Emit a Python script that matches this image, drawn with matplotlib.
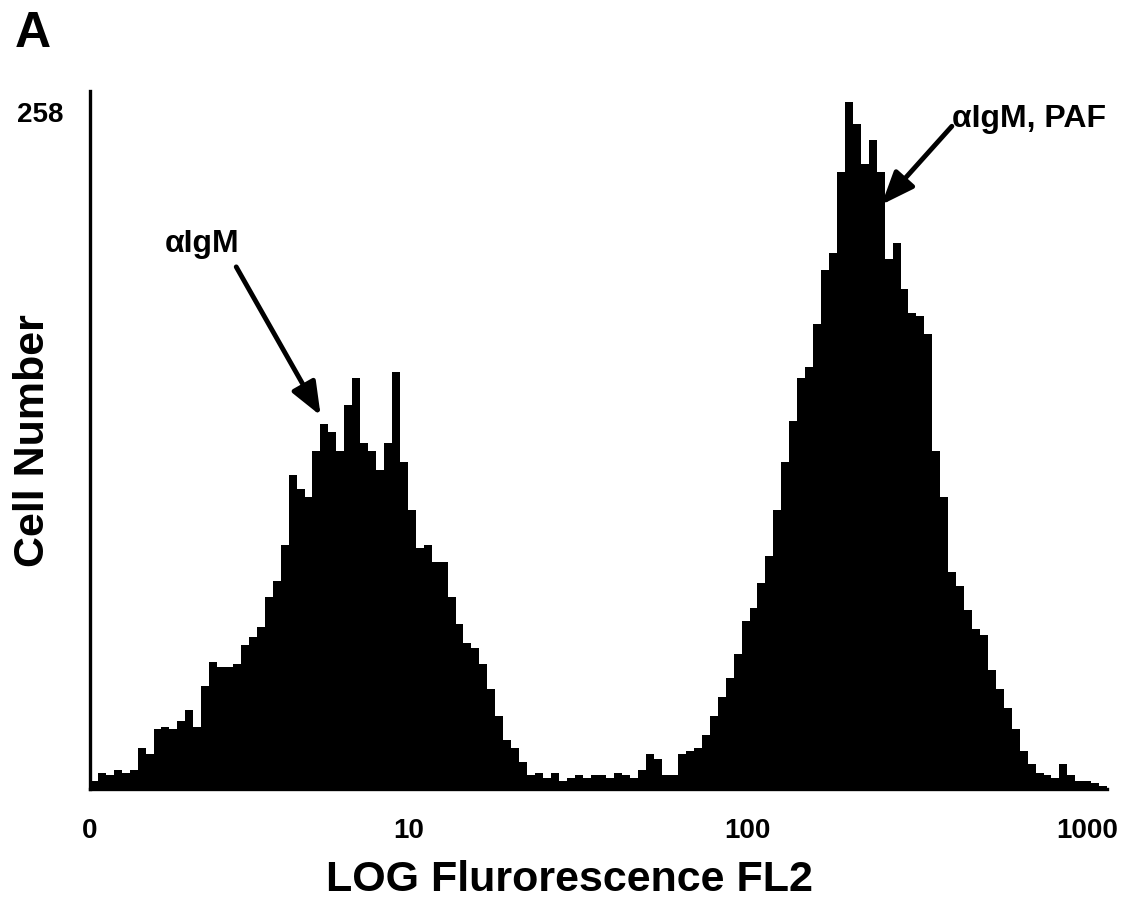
import numpy as np
import matplotlib
matplotlib.use('Agg')
from matplotlib import pyplot as plt
from matplotlib.transforms import ScaledTranslation

plt.rcParams['font.family'] = ['Liberation Sans', 'DejaVu Sans']
plt.rcParams['font.weight'] = 'bold'
plt.rcParams['axes.labelweight'] = 'bold'

# cell counts per channel, 128 channels over three log decades
counts = [3, 6, 5, 7, 6, 7, 15, 13, 22, 23,
          22, 25, 29, 23, 38, 47, 45, 45, 46, 53,
          56, 60, 71, 77, 90, 116, 111, 108, 125, 135,
          132, 125, 142, 152, 128, 125, 118, 128, 154, 121,
          103, 89, 90, 84, 84, 71, 61, 54, 52, 46,
          37, 27, 18, 15, 10, 5, 6, 4, 6, 3,
          4, 5, 4, 5, 5, 4, 6, 5, 4, 7,
          13, 11, 5, 5, 13, 14, 15, 20, 27, 34,
          41, 50, 62, 67, 76, 86, 103, 121, 136, 152,
          156, 172, 192, 198, 228, 254, 246, 231, 240, 228,
          196, 202, 185, 176, 175, 168, 125, 108, 80, 75,
          66, 59, 57, 44, 37, 30, 22, 14, 9, 6,
          5, 4, 9, 5, 3, 3, 2, 1]
log_lo = 0.06
log_hi = 3.06
x_ticks = [10**log_lo, 10, 100, 1000]
x_ticklabels = ['0', '10', '100', '1000']
y_max = 258

edges = np.logspace(log_lo, log_hi, len(counts) + 1)

fig = plt.figure(figsize=(11.39, 9.12), dpi=100)
ax = fig.add_axes([0.079, 0.134, 0.893, 0.765])

ax.stairs(counts, edges, fill=True, color='black', lw=0)

ax.set_xscale('log')
ax.set_xlim(edges[0], edges[-1])
ax.set_ylim(0, y_max)
ax.set_xticks(x_ticks)
ax.set_xticklabels(x_ticklabels)
ax.minorticks_off()
ax.set_yticks([y_max])
ax.set_yticklabels([str(y_max)])
ax.tick_params(axis='both', length=0, labelsize=20)
ax.tick_params(axis='x', pad=20)
ax.tick_params(axis='y', pad=19)
for lbl in ax.get_yticklabels():
	lbl.set_va('top')
	lbl.set_transform(lbl.get_transform() + ScaledTranslation(0, -7/72, fig.dpi_scale_trans))

for s in ['top', 'right']:
	ax.spines[s].set_visible(False)
for s in ['left', 'bottom']:
	ax.spines[s].set_linewidth(2.4)

ax.set_xlabel('LOG Flurorescence FL2', fontsize=31)
ax.xaxis.set_label_coords(0.471, -0.1)
ax.set_ylabel('Cell Number', fontsize=31, va='center')
ax.yaxis.set_label_coords(-0.056, 0.5)

# arrows pointing at the two populations
arrow = dict(arrowstyle='-|>,head_length=1.0,head_width=0.4', mutation_scale=20,
             lw=3.5, color='black', shrinkA=0, shrinkB=0)
ax.annotate('', xy=(5.5, 138), xytext=(3.1, 193), arrowprops=arrow)
ax.text(2.45, 202, '\u03b1IgM', fontsize=23, ha='center', va='center')
ax.annotate('', xy=(248, 216), xytext=(400, 245), arrowprops=arrow)
ax.text(674, 248, '\u03b1IgM, PAF', fontsize=23, ha='center', va='center', clip_on=False)

fig.text(0.013, 0.948, 'A', fontsize=36, fontweight='bold')

plt.savefig('out.png', dpi=100)
